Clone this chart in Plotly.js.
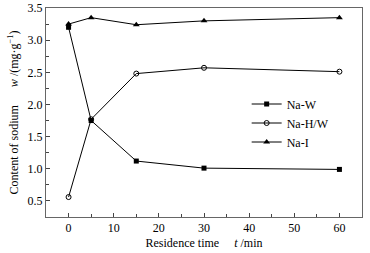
<!DOCTYPE html>
<html><head><meta charset="utf-8">
<script src="https://cdn.plot.ly/plotly-3.0.1.min.js"></script>
<style>body{margin:0;background:#fff}#c{width:370px;height:253px}</style>
</head><body><div id="c"></div>
<script>
const times = [0, 5, 15, 30, 60];
const naW = [3.20, 1.75, 1.12, 1.01, 0.99];
const naHW = [0.56, 1.77, 2.48, 2.57, 2.51];
const naI = [3.25, 3.35, 3.24, 3.30, 3.35];
const names = ['Na-W', 'Na-H/W', 'Na-I'];

const lineStyle = {color: '#000', width: 1};
const traces = [
  {x: times, y: naW, name: names[0], mode: 'lines+markers', line: lineStyle,
   marker: {symbol: 'square', size: 5, color: '#000'}},
  {x: times, y: naHW, name: names[1], mode: 'lines+markers', line: lineStyle,
   marker: {symbol: 'circle-open', size: 5, color: '#000', line: {width: 1, color: '#000'}}},
  {x: times, y: naI, name: names[2], mode: 'lines+markers', line: lineStyle,
   marker: {symbol: 'triangle-up', size: 6, color: '#000'}}
];
const FAM = '"Liberation Serif"';
const font = {family: FAM, size: 12, color: '#000'};
const layout = {
  width: 370, height: 253,
  margin: {l: 46, r: 8, t: 8, b: 36},
  paper_bgcolor: '#fff', plot_bgcolor: '#fff',
  font: font,
  showlegend: true,
  legend: {x: 0.635, y: 0.61, xanchor: 'left', yanchor: 'top', bgcolor: 'rgba(0,0,0,0)',
           font: {family: FAM, size: 12, color: '#000'}, tracegroupgap: 0, itemwidth: 30},
  xaxis: {
    range: [-5, 65], tickvals: [0, 10, 20, 30, 40, 50, 60], ticks: 'inside', ticklen: 4,
    showline: true, linecolor: '#666', linewidth: 1, mirror: true, showgrid: false, zeroline: false,
    tickfont: {family: FAM, size: 12, color: '#000'},
    minor: {tickvals: [5, 15, 25, 35, 45, 55], ticks: 'inside', ticklen: 3, showgrid: false},
    title: {text: 'Residence time&nbsp;&nbsp;&nbsp;&nbsp;&nbsp;<i>t</i> /min', standoff: 4,
            font: {family: FAM, size: 12, color: '#000'}}
  },
  yaxis: {
    range: [0.25, 3.5], tickvals: [0.5, 1.0, 1.5, 2.0, 2.5, 3.0, 3.5], ticktext: ['0.5','1.0','1.5','2.0','2.5','3.0','3.5'],
    ticks: 'inside', ticklen: 4,
    showline: true, linecolor: '#666', linewidth: 1, mirror: true, showgrid: false, zeroline: false,
    tickfont: {family: FAM, size: 12, color: '#000'},
    minor: {tickvals: [0.75, 1.25, 1.75, 2.25, 2.75, 3.25], ticks: 'inside', ticklen: 3, showgrid: false},
    title: {text: 'Content of sodium&nbsp;&nbsp;&nbsp;&nbsp;&nbsp;&nbsp;<i>w</i> /(mg·g<sup>−1</sup>)', standoff: 6,
            font: {family: FAM, size: 12, color: '#000'}}
  }
};
Plotly.newPlot('c', traces, layout, {displayModeBar: false, staticPlot: true});
</script></body></html>
